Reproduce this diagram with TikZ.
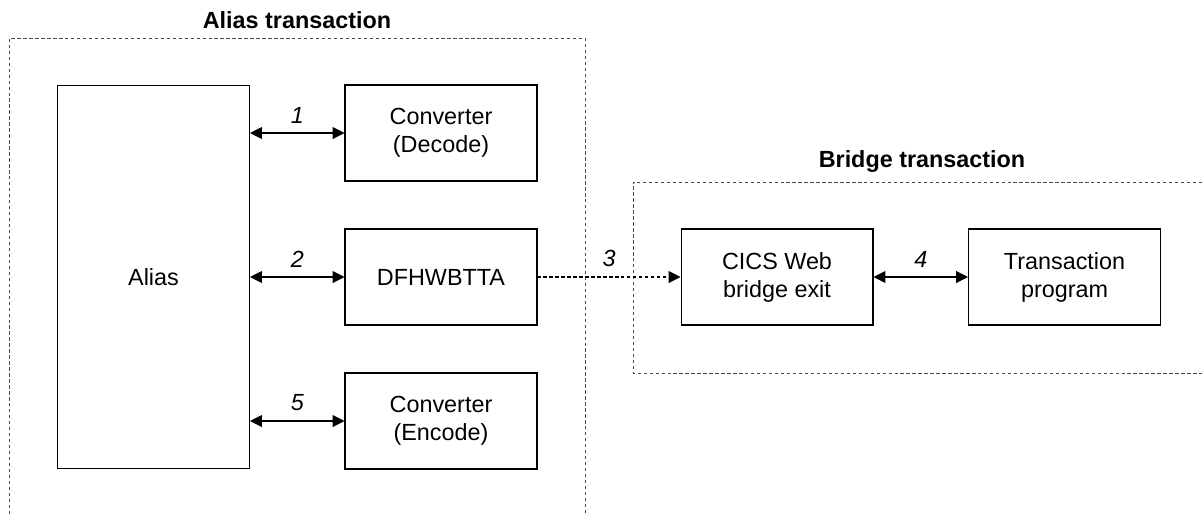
\documentclass[tikz,border=0pt]{standalone}
\usepackage{fontspec}
\setmainfont{Liberation Sans}
\usetikzlibrary{arrows.meta}

\begin{document}
\begin{tikzpicture}[x=0.02cm, y=-0.02cm,
    every node/.append style={font=\fontsize{13.3}{15.9}\selectfont},
    box/.style={draw, line width=0.6pt, minimum width=3.84cm, minimum height=1.92cm, align=center, inner sep=0pt},
    link/.style={line width=0.6pt, {Triangle[length=6.8pt, width=6.8pt]}-{Triangle[length=6.8pt, width=6.8pt]}},
    frame/.style={draw=black!70, line width=0.5pt, dash pattern=on 1.9pt off 1.5pt},
    num/.style={font=\fontsize{13.3}{15.9}\selectfont\itshape, above=2pt},
    title/.style={font=\fontsize{13.3}{15.9}\selectfont\bfseries}
]

    \useasboundingbox (0,0) rectangle (1202,514);

    \def\ax{9.5}            % Left edge of the alias frame
    \def\bx{633}            % Left edge of the bridge frame
    \def\my{277}            % Middle row

    % Frames, open towards the edge of the picture
    \draw[frame] (\ax,514) -- (\ax,38) -- (585,38) -- (585,514);
    \draw[frame] (1202,182) -- (\bx,182) -- (\bx,373) -- (1202,373);
    \node[title] (aliastitle) at (297,20) {Alias transaction};
    \node[title] (bridgetitle) at (922,162) {Bridge transaction};

    % Boxes
    \node[box, minimum height=7.68cm] (alias) at (153.5,\my) {Alias};
    \node[box] (decode) at (441,133) {Converter\\(Decode)};
    \node[box] (dfh) at (441,\my) {DFHWBTTA};
    \node[box] (encode) at (441,421) {Converter\\(Encode)};
    \node[box] (cics) at (777,\my) {CICS Web\\bridge exit};
    \node[box] (tprog) at (1064.5,\my) {Transaction\\program};

    % Connectors
    \draw[link] (decode.west -| alias.east) -- node[num] (n1) {1} (decode.west);
    \draw[link] (dfh.west -| alias.east) -- node[num] (n2) {2} (dfh.west);
    \draw[link] (encode.west -| alias.east) -- node[num] (n5) {5} (encode.west);
    \draw[line width=0.6pt, dash pattern=on 1.9pt off 1.5pt, -{Triangle[length=6.8pt, width=6.8pt]}]
        (dfh.east) -- node[num] (n3) {3} (cics.west);
    \draw[link] (cics.east) -- node[num] (n4) {4} (tprog.west);

\end{tikzpicture}
\end{document}
